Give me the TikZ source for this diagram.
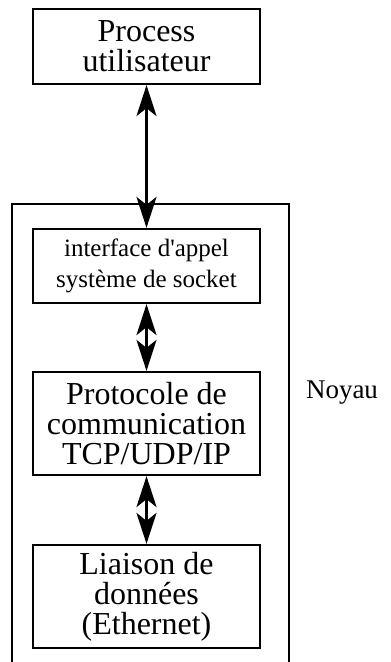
\documentclass[tikz,border=0pt]{standalone}
\usepackage{fontspec}
\setmainfont{Liberation Serif}
\usetikzlibrary{arrows.meta}

\tikzset{
  couche/.style={draw, line width=2.2pt, minimum width=227pt, align=center, inner sep=0pt},
  grand/.style={font=\fontsize{32}{30}\selectfont},
  petit/.style={font=\fontsize{25}{31}\selectfont},
  dblarrow/.style={line width=3pt, {Stealth[length=31pt,width=20pt,inset=8pt]}-{Stealth[length=31pt,width=20pt,inset=8pt]}}
}

\begin{document}
\begin{tikzpicture}[x=1pt,y=-1pt]
        \useasboundingbox (0,0) rectangle (391,662);
        % noyau, ouvert en bas
        \draw[line width=2.4pt] (12,664) |- (289,204) -- (289,664);
        \node[font=\fontsize{27}{30}\selectfont] (noyau) at (342,393) {Noyau};
        % couches
        \node[couche,grand,minimum height=75pt] (proc) at (146.5,46.5) {Process\\utilisateur};
        \node[couche,petit,minimum height=74pt] (sock) at (146.5,266) {interface d\textquotesingle appel\\système de socket};
        \node[couche,grand,minimum height=103pt] (tcp) at (146.5,423.5) {Protocole de\\communication\\TCP/UDP/IP};
        \node[couche,grand,minimum height=103pt] (liai) at (146.5,596.5) {Liaison de\\données\\(Ethernet)};
        \draw[dblarrow] (proc) -- (sock);
        \draw[dblarrow] (sock) -- (tcp);
        \draw[dblarrow] (tcp) -- (liai);
\end{tikzpicture}
\end{document}
